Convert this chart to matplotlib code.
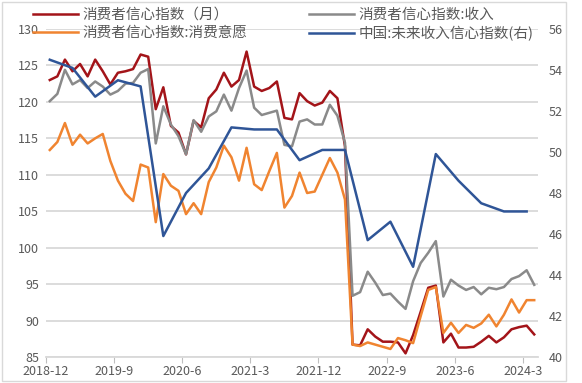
import matplotlib
matplotlib.use("Agg")
import matplotlib.pyplot as plt
import numpy as np
from matplotlib.patches import Rectangle

plt.rcParams['font.family'] = ['Noto Sans CJK SC', 'DejaVu Sans']

# monthly series, 2018-12 .. 2024-4
confidence = [123.0, 123.5, 125.8, 124.2, 125.2, 123.5, 125.8, 124.2, 122.4, 124.0,
              124.2, 124.5, 126.5, 126.2, 119.0, 122.0, 116.7, 115.8, 112.8, 117.4,
              116.5, 120.5, 121.7, 124.0, 122.1, 123.0, 126.9, 122.1, 121.5, 121.9,
              122.8, 117.8, 117.6, 121.2, 120.1, 119.5, 119.9, 121.5, 120.5, 113.9,
              86.7, 86.6, 88.8, 87.8, 87.1, 87.1, 87.0, 85.5, 88.0, 91.2,
              94.5, 94.8, 87.0, 88.2, 86.3, 86.3, 86.4, 87.1, 87.9, 87.0,
              87.7, 88.8, 89.1, 89.3, 88.1]
income = [120.1, 121.1, 124.4, 122.4, 123.0, 121.9, 122.8, 122.1, 121.0, 121.5,
          122.5, 122.6, 124.0, 124.5, 114.3, 119.4, 116.9, 115.3, 112.8, 117.5,
          115.9, 118.0, 118.7, 121.0, 118.8, 121.9, 124.3, 119.2, 118.2, 118.5,
          118.8, 114.1, 113.9, 117.3, 117.6, 116.9, 116.9, 119.6, 118.1, 114.4,
          93.4, 93.9, 96.7, 95.2, 93.5, 93.7, 92.6, 91.6, 95.4, 97.9,
          99.3, 100.9, 93.3, 95.6, 94.8, 94.2, 94.6, 93.6, 94.5, 94.3,
          94.6, 95.7, 96.1, 96.9, 94.9]
willingness = [113.4, 114.5, 117.1, 114.1, 115.5, 114.3, 115.0, 115.6, 111.9, 109.2,
               107.4, 106.4, 111.4, 111.0, 103.5, 110.1, 108.5, 107.8, 104.6, 106.1,
               104.6, 109.0, 111.0, 114.0, 112.4, 109.2, 113.7, 108.7, 107.9, 110.5,
               113.0, 105.5, 107.1, 110.3, 107.5, 107.7, 110.0, 112.3, 110.3, 106.6,
               86.7, 86.5, 87.0, 86.7, 86.4, 86.1, 87.6, 87.3, 86.9, 90.6,
               94.2, 94.6, 88.3, 89.7, 88.3, 89.4, 89.0, 89.6, 90.8, 89.2,
               90.8, 92.9, 91.1, 92.8, 92.8]
# quarterly, 2018Q4 .. 2024Q1 (right axis)
future_income = [54.5, 54.1, 52.7, 53.5, 53.2, 45.9, 48.0, 49.2, 51.2, 51.1, 51.1,
                 49.6, 50.1, 50.1, 45.7, 46.6, 44.4, 49.9, 48.6, 47.5, 47.1, 47.1]

tick_labels = ['2018-12', '2019-9', '2020-6', '2021-3', '2021-12', '2022-9', '2023-6', '2024-3']

x_month = np.arange(len(confidence))
x_quarter = np.arange(len(future_income)) * 3

txt = '#595959'
fig = plt.figure(figsize=(5.82, 3.83), dpi=100)
ax = fig.add_axes([46 / 582, 1 - 357 / 383, 492 / 582, 328 / 383])
ax2 = ax.twinx()

l1, = ax.plot(x_month, confidence, color='#A31419', lw=1.8, label='消费者信心指数（月）')
l2, = ax.plot(x_month, willingness, color='#F08430', lw=1.8, label='消费者信心指数:消费意愿')
l3, = ax.plot(x_month, income, color='#8A8A8A', lw=1.8, label='消费者信心指数:收入')
l4, = ax2.plot(x_quarter, future_income, color='#2F5597', lw=1.8, label='中国:未来收入信心指数(右)')

ax.set_ylim(85, 130)
ax.set_yticks(np.arange(85, 131, 5))
ax2.set_ylim(40, 56)
ax2.set_yticks(np.arange(40, 57, 2))
ax.set_xlim(-0.5, 64.5)
ax.set_xticks(np.arange(0, 64, 9) - 0.5)
ax.set_xticklabels(tick_labels)

ax.grid(axis='y', color='#D9D9D9', lw=1.3)
ax.set_axisbelow(True)
for a in (ax, ax2):
    for s in a.spines.values():
        s.set_visible(False)
ax.spines['bottom'].set_visible(True)
ax.spines['bottom'].set_color('#D9D9D9')
ax.spines['bottom'].set_linewidth(1.3)
ax.tick_params(axis='x', length=4, color='#BFBFBF', labelsize=9, labelcolor=txt, pad=2)
ax.tick_params(axis='y', length=0, labelsize=9, labelcolor=txt, pad=5)
ax2.tick_params(axis='y', length=0, labelsize=9, labelcolor=txt, pad=8)

fig.legend(handles=[l1, l2, l3, l4], ncol=2, loc='upper left',
           bbox_to_anchor=(20 / 582, 1.014), frameon=False, fontsize=10.5,
           labelcolor=txt, handlelength=3.1, handletextpad=0.3,
           columnspacing=4.2, labelspacing=0.3)

fig.patches.append(Rectangle((0.004, 0.006), 0.968, 0.99, transform=fig.transFigure,
                             fill=False, edgecolor='#D9D9D9', lw=1))

fig.savefig('out.png', dpi=100)
